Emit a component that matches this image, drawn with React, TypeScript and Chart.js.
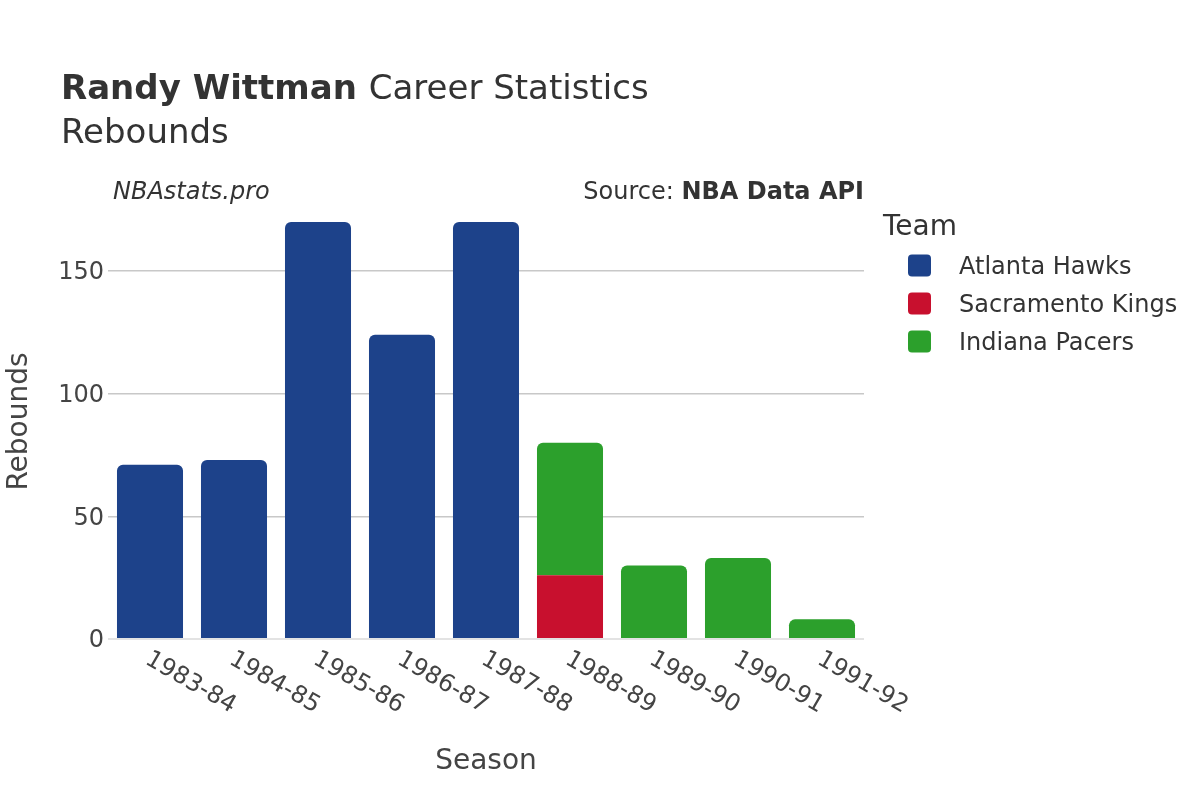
import React, { useEffect, useRef } from "react";
import { Chart, registerables } from "chart.js";

Chart.register(...registerables);

const FONT = "'DejaVu Sans', sans-serif";

const seasons = [
  "1983-84", "1984-85", "1985-86", "1986-87", "1987-88",
  "1988-89", "1989-90", "1990-91", "1991-92",
];
const teams = ["Atlanta Hawks", "Sacramento Kings", "Indiana Pacers"];
const teamColors = ["#1d428a", "#c8102e", "#2ca02c"];
const hawksRebounds = [71, 73, 170, 124, 170, null, null, null, null];
const kingsRebounds = [null, null, null, null, null, 26, null, null, null];
const pacersRebounds = [null, null, null, null, null, 54, 30, 33, 8];
const yTickValues = [0, 50, 100, 150];
const yMax = 177.3;

const titleBold = "Randy Wittman";
const titleRest = "Career Statistics";
const subtitle = "Rebounds";
const creditLeft = "NBAstats.pro";
const sourceLabel = "Source: ";
const sourceName = "NBA Data API";
const legendTitle = "Team";
const xTitle = "Season";
const yTitle = "Rebounds";

const decor = {
  id: "decor",
  afterDraw(chart: any) {
    const ctx = chart.ctx as CanvasRenderingContext2D;
    const xs = chart.scales.x;
    const ys = chart.scales.y;
    const area = chart.chartArea;
    ctx.save();
    ctx.textBaseline = "alphabetic";
    ctx.textAlign = "left";
    ctx.fillStyle = "#333";

    // Title
    ctx.font = `bold 34px ${FONT}`;
    ctx.fillText(titleBold, 61, 99);
    const tw = ctx.measureText(titleBold + " ").width;
    ctx.font = `34px ${FONT}`;
    ctx.fillText(titleRest, 61 + tw, 99);
    ctx.fillText(subtitle, 61, 143);

    // Credits
    ctx.fillStyle = "#333";
    ctx.font = `italic 24px ${FONT}`;
    ctx.fillText(creditLeft, 113, 199);
    ctx.font = `bold 24px ${FONT}`;
    const bw = ctx.measureText(sourceName).width;
    ctx.textAlign = "right";
    ctx.fillText(sourceName, 864, 199);
    ctx.font = `24px ${FONT}`;
    ctx.fillText(sourceLabel, 864 - bw, 199);

    // X tick labels (rotated)
    ctx.fillStyle = "#444";
    ctx.font = `24px ${FONT}`;
    ctx.textAlign = "left";
    seasons.forEach((s, i) => {
      const px = xs.getPixelForValue(i);
      ctx.save();
      ctx.translate(px - 6, ys.bottom + 24);
      ctx.rotate(Math.PI / 6);
      ctx.fillText(s, 0, 0);
      ctx.restore();
    });

    // Axis titles
    ctx.font = `28px ${FONT}`;
    ctx.textAlign = "center";
    ctx.fillText(xTitle, (area.left + area.right) / 2, 769);
    ctx.save();
    ctx.translate(27, (area.top + area.bottom) / 2);
    ctx.rotate(-Math.PI / 2);
    ctx.fillText(yTitle, 0, 0);
    ctx.restore();

    // Legend
    ctx.textAlign = "left";
    ctx.fillStyle = "#333";
    ctx.font = `28px ${FONT}`;
    ctx.fillText(legendTitle, 883, 235);
    ctx.font = `24px ${FONT}`;
    chart.data.datasets.forEach((ds: any, i: number) => {
      const cy = 265.5 + i * 38;
      ctx.fillStyle = ds.backgroundColor;
      ctx.beginPath();
      (ctx as any).roundRect(908, cy - 11, 23, 22, 4);
      ctx.fill();
      ctx.fillStyle = "#333";
      ctx.fillText(ds.label, 959, cy + 8.5);
    });
    ctx.restore();
  },
};

export default function App() {
  const ref = useRef<HTMLCanvasElement | null>(null);
  useEffect(() => {
    if (!ref.current) return;
    const series = [hawksRebounds, kingsRebounds, pacersRebounds];
    const chart = new Chart(ref.current, {
      type: "bar",
      data: {
        labels: seasons,
        datasets: teams.map((t, i) => ({
          label: t,
          data: series[i] as any,
          backgroundColor: teamColors[i],
          borderWidth: 0,
          borderRadius: 6,
          borderSkipped: "start",
          barPercentage: 0.786,
          categoryPercentage: 1,
        })),
      },
      options: {
        responsive: false,
        animation: false,
        devicePixelRatio: 1,
        layout: { padding: { left: 48, right: 336, top: 204, bottom: 161 } },
        plugins: {
          legend: { display: false },
          title: { display: false },
          tooltip: { enabled: false },
        },
        scales: {
          x: {
            stacked: true,
            grid: { display: false },
            border: { display: false },
            ticks: { display: false },
            afterFit: (s: any) => {
              s.height = 0;
            },
          },
          y: {
            stacked: true,
            min: 0,
            max: yMax,
            afterBuildTicks: (s: any) => {
              s.ticks = yTickValues.map((v) => ({ value: v }));
            },
            grid: {
              color: (c: any) => (c.tick && c.tick.value === 0 ? "#e3e3e3" : "#c8c8c8"),
              lineWidth: (c: any) => (c.tick && c.tick.value === 0 ? 2 : 1.5),
              drawTicks: false,
            },
            border: { display: false },
            ticks: {
              font: { family: FONT, size: 24 },
              color: "#444",
              padding: 4,
              labelOffset: 2,
            },
            afterFit: (s: any) => {
              s.width = 60;
            },
          },
        },
      },
      plugins: [decor],
    });
    return () => chart.destroy();
  }, []);
  return (
    <div style={{ position: "fixed", left: 0, top: 0, width: 1200, height: 800, background: "#fff" }}>
      <canvas ref={ref} width={1200} height={800} style={{ width: 1200, height: 800 }} />
    </div>
  );
}
